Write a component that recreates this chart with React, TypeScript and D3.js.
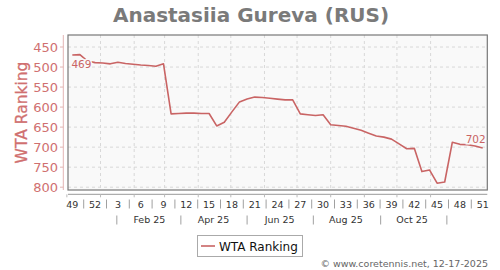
import React from "react";
import * as d3 from "d3";

const title = "Anastasiia Gureva (RUS)";
const seriesName = "WTA Ranking";
const startDate = new Date(2024, 11, 6);
const rankings = [
  470, 469, 485, 489, 490, 492, 488, 491, 493, 495, 496, 498, 492,
  617, 616, 615, 615, 616, 616, 647, 638, 612, 587, 580, 575, 576, 578,
  580, 582, 582, 617, 619, 621, 619, 644, 646, 648, 653, 658, 665, 672,
  675, 680, 692, 704, 703, 761, 757, 790, 787, 688, 693, 694, 697, 702,
];
const weekLabels = ["49", "52", "3", "6", "9", "12", "15", "18", "21", "24", "27", "30", "33", "36", "39", "42", "45", "48", "51"];
const monthLabels = ["Feb 25", "Apr 25", "Jun 25", "Aug 25", "Oct 25"];
const monthLabelDates = [new Date(2025, 1, 15), new Date(2025, 3, 15), new Date(2025, 5, 15), new Date(2025, 7, 15), new Date(2025, 9, 15)];
const monthSepDates = [new Date(2025, 0, 16), new Date(2025, 2, 16), new Date(2025, 4, 16), new Date(2025, 6, 16), new Date(2025, 8, 16), new Date(2025, 10, 16)];
const yTicks = [450, 500, 550, 600, 650, 700, 750, 800];
const minLabel = "469";
const lastLabel = "702";
const credit = "© www.coretennis.net, 12-17-2025";

const W = 500, H = 270;
const plot = { l: 68, r: 487.3, t: 35, b: 190 };
const lineColor = "#c96464";
const axisText = "#d07070";
const font = "DejaVu Sans";

export default function App() {
  const week = 7 * 24 * 3600 * 1000;
  const dateOf = (i: number) => new Date(startDate.getTime() + i * week);
  const x = d3.scaleTime().domain([dateOf(0), dateOf(rankings.length - 1)]).range([72.3, 482.7]);
  const y = d3.scaleLinear().domain([420, 807]).range([plot.t, plot.b]);
  const line = d3.line<number>().x((_, i) => x(dateOf(i))).y((d) => y(d));
  const months = d3.timeMonth.range(new Date(2024, 11, 1), new Date(2025, 10, 2));
  const gridMonths = months.filter((m) => x(m) > plot.l && x(m) < plot.r);
  const minIdx = rankings.indexOf(d3.min(rankings) as number);
  const axisY = 194.3;

  return (
    <svg width={W} height={H} style={{ position: "absolute", left: 0, top: 0, background: "#fff" }} fontFamily={font}>
      <text x={251} y={22} textAnchor="middle" fontSize={20} fontWeight="bold" fill="#7a7a7a">{title}</text>

      <rect x={plot.l} y={plot.t} width={plot.r - plot.l} height={plot.b - plot.t} fill="#f9f9f9" />
      {yTicks.map((t) => (
        <line key={"hy" + t} x1={plot.l} x2={plot.r} y1={y(t)} y2={y(t)} stroke="#d8d8d8" strokeDasharray="3,3" strokeWidth={1} />
      ))}
      {gridMonths.map((m, i) => (
        <line key={"gx" + i} x1={x(m)} x2={x(m)} y1={plot.t} y2={plot.b} stroke="#d8d8d8" strokeDasharray="3,3" strokeWidth={1} />
      ))}

      <path d={line(rankings) ?? ""} fill="none" stroke={lineColor} strokeWidth={1.6} strokeLinejoin="round" />

      <text x={x(dateOf(minIdx)) + 1.5} y={67.5} textAnchor="middle" fontSize={10.5} fill={lineColor}
        stroke="#f9f9f9" strokeWidth={3} paintOrder="stroke">{minLabel}</text>
      <text x={475.7} y={142.7} textAnchor="middle" fontSize={10.5} fill={lineColor}
        stroke="#f9f9f9" strokeWidth={3} paintOrder="stroke">{lastLabel}</text>

      <rect x={plot.l} y={plot.t} width={plot.r - plot.l} height={plot.b - plot.t} fill="none" stroke="#777" strokeWidth={1.2} />

      <line x1={63.3} x2={63.3} y1={plot.t} y2={plot.b} stroke="#e3b5b5" strokeWidth={1} />
      {yTicks.map((t) => (
        <g key={"yt" + t}>
          <line x1={60} x2={63.3} y1={y(t)} y2={y(t)} stroke="#e3b5b5" />
          <text x={58} y={y(t) + 4.6} textAnchor="end" fontSize={13} fill={axisText}>{t}</text>
        </g>
      ))}
      <text transform={`translate(26.5,${(plot.t + plot.b) / 2}) rotate(-90)`} textAnchor="middle" fontSize={15.5} fill={axisText}
        stroke={axisText} strokeWidth={0.3}>{seriesName}</text>

      <line x1={plot.l} x2={plot.r} y1={axisY} y2={axisY} stroke="#999" strokeWidth={1} />
      {months.map((m, i) => (
        <line key={"mt" + i} x1={x(m)} x2={x(m)} y1={axisY} y2={axisY + 3} stroke="#bbb" />
      ))}
      {weekLabels.map((w, k) => (
        <text key={"wl" + k} x={x(dateOf(k * 3))} y={207.5} textAnchor="middle" fontSize={9.5} fill="#333">{w}</text>
      ))}
      {weekLabels.slice(0, -1).map((_, k) => {
        const sx = x(dateOf(k * 3 + 1.5));
        return <line key={"ws" + k} x1={sx} x2={sx} y1={199.5} y2={208.5} stroke="#888" strokeWidth={0.8} />;
      })}
      {monthLabels.map((m, k) => (
        <text key={"ml" + k} x={x(monthLabelDates[k])} y={223} textAnchor="middle" fontSize={9.5} fill="#333">{m}</text>
      ))}
      {monthSepDates.map((d, k) => (
        <line key={"ms" + k} x1={x(d)} x2={x(d)} y1={215.5} y2={224.5} stroke="#888" strokeWidth={0.8} />
      ))}

      <rect x={197.5} y={235.5} width={105} height={21} fill="#fff" stroke="#aaa" strokeWidth={1} />
      <line x1={201} x2={215} y1={246} y2={246} stroke={lineColor} strokeWidth={1.6} />
      <text x={219} y={250.5} fontSize={12} fill="#111">{seriesName}</text>

      <text x={488} y={267} textAnchor="end" fontSize={9.5} fill="#666">{credit}</text>
    </svg>
  );
}
